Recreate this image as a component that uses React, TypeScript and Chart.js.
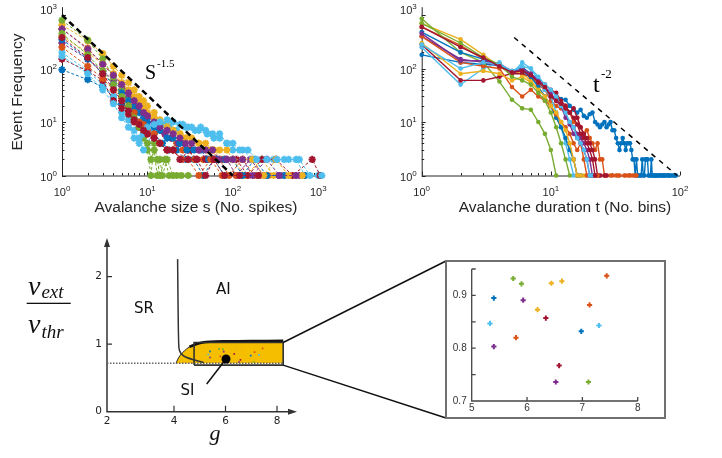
import React, { useEffect, useRef } from 'react';
import { Chart, registerables } from 'chart.js';

Chart.register(...registerables);

const COLORS = ['#0072BD', '#D95319', '#EDB120', '#7E2F8E', '#77AC30', '#4DBEEE', '#A2142F'];
const SANS = '"Liberation Sans", Arial, sans-serif';
const DJ = '"DejaVu Sans", sans-serif';
const SERIF = '"Liberation Serif", "Times New Roman", serif';

type Pt = [number, number];

// ---------- Panel A: avalanche size distributions [size, count]
const size1: Pt[] = [[1,95],[2,62],[3,45],[4,30],[5,22],[6,18],[7,14],[8,10],[10,8],[12,6],[15,4],[18,3],[22,3],[28,2],[35,2],[45,1],[60,2],[80,1],[120,1],[200,1],[350,1]];
const size2: Pt[] = [[1,550],[2,240],[3,120],[4,75],[5,50],[6,38],[7,28],[8,22],[9,17],[10,14],[12,10],[14,8],[16,6],[19,5],[22,4],[26,3],[30,3],[36,2],[45,2],[55,3],[70,2],[90,1],[130,2],[180,1],[260,1],[400,1]];
const size3: Pt[] = [[1,650],[2,330],[3,190],[4,110],[5,75],[6,55],[7,40],[8,30],[9,25],[10,20],[12,15],[14,11],[17,9],[20,7],[24,6],[28,5],[33,4],[40,4],[50,3],[60,3],[75,2],[100,2],[140,1],[220,2],[300,1],[500,1]];
const size4: Pt[] = [[1,300],[2,150],[3,90],[4,60],[5,40],[6,30],[7,20],[8,18],[9,14],[10,12],[12,9],[14,7],[16,6],[19,5],[23,4],[27,4],[32,3],[40,3],[50,2],[65,2],[85,2],[110,1],[160,2],[230,1],[350,1],[600,1]];
const size5: Pt[] = [[1,800],[2,340],[3,150],[4,70],[5,40],[6,25],[7,15],[8,9],[9,5],[10,3],[11,1],[12,4],[13,2],[14,1],[16,2],[18,1],[22,1],[30,1]];
const size6: Pt[] = [[1,200],[2,90],[3,50],[4,30],[5,15],[6,11],[7,7],[8,5],[9,3],[10,4],[12,7],[15,9],[18,8],[22,7],[26,9],[30,8],[36,7],[42,8],[50,6],[60,5],[70,6],[85,4],[100,3],[130,3],[170,2],[220,2],[300,2],[400,2],[550,2],[700,1],[1000,1]];
const size7: Pt[] = [[1,150],[2,90],[3,60],[4,25],[5,18],[6,14],[7,10],[8,8],[9,7],[10,6],[12,5],[14,4],[17,3],[20,3],[25,2],[30,3],[38,2],[48,2],[60,2],[80,2],[110,2],[150,1],[220,2],[320,2],[500,1],[850,2],[1050,1]];
const size8: Pt[] = [[1,350],[2,150],[3,80],[4,50],[5,35],[6,25],[7,19],[8,15],[9,12],[10,10],[12,8],[14,7],[17,5],[20,5],[24,4],[29,3],[35,3],[42,3],[52,2],[65,2],[80,2],[100,2],[130,1],[180,2],[250,1],[400,1],[700,1]];
const size9: Pt[] = [[1,250],[2,110],[3,65],[4,40],[5,28],[6,20],[7,15],[8,10],[9,9],[10,7],[12,6],[14,4],[17,3],[20,3],[25,2],[30,2],[40,1],[55,2],[75,1],[110,1],[200,1]];
const size10: Pt[] = [[1,400],[2,200],[3,120],[4,80],[5,55],[6,40],[7,30],[8,24],[9,19],[10,15],[12,12],[14,10],[17,8],[20,7],[24,6],[28,5],[33,5],[40,4],[48,4],[58,3],[70,3],[85,3],[100,2],[130,2],[170,2],[230,1],[320,2],[450,1],[650,1]];
const size11: Pt[] = [[1,550],[2,230],[3,120],[4,75],[5,50],[6,35],[7,25],[8,20],[9,15],[10,13],[12,10],[14,8],[17,7],[20,6],[24,5],[28,4],[33,4],[40,3],[48,3],[58,3],[70,2],[85,2],[100,2],[130,2],[170,1],[250,2],[350,1],[550,1]];
const size12: Pt[] = [[1,450],[2,180],[3,90],[4,50],[5,30],[6,20],[7,12],[8,8],[9,6],[10,4],[11,2],[12,3],[13,1],[14,2],[15,1],[17,2],[20,1],[25,1]];
const size13: Pt[] = [[1,170],[2,80],[3,40],[4,22],[5,12],[6,8],[7,5],[8,4],[9,6],[10,8],[12,9],[14,10],[17,11],[20,10],[24,9],[28,8],[33,8],[40,7],[48,7],[58,6],[70,5],[85,4],[100,4],[120,3],[150,3],[190,2],[250,2],[330,2],[450,2],[600,2],[800,1],[1100,1]];
const size14: Pt[] = [[1,380],[2,160],[3,80],[4,40],[5,25],[6,16],[7,11],[8,9],[9,7],[10,6],[12,5],[14,4],[17,3],[20,3],[24,2],[30,2],[38,2],[48,1],[60,2],[80,1],[120,1],[200,1]];
const sizeSeries = [size1, size2, size3, size4, size5, size6, size7, size8, size9, size10, size11, size12, size13, size14];
const sizeGuideS = [1, 100];
const sizeGuideCount = [1000, 1];

// ---------- Panel B: avalanche duration distributions (count per duration bin t = 1, 2, ...)
const durationBins = Array.from({ length: 100 }, (_, i) => i + 1);
const dur1 = [180,130,120,115,90,105,80,60,40,30,27,27,26,20,17,15,17,13,12,14,15,10,9,8,9,10,8,9,10,7,7,5,4,3,4,5,4,3,4,4,4,3,2,2,1,2,1,1,1,1,2,1,1,2,2,2,1,1,1,2,1,1,1,1,1,1,1,null,1,1,1,null,1,1,1,1,1,null,null,1,1,null,1,1,null,null,1,null,null,1,1,null,1];
const dur2 = [600,270,150,110,80,100,70,50,40,25,20,18,20,15,10,12,8,6,7,5,4,3,4,2,2,1,1,null,1,1,null,1,1,1,null,null,1,1,null,1,1,null,1,null,1,1];
const dur3 = [700,350,180,110,90,80,60,40,30,20,12,8,5,3,2,1,1,1,1,null,1,1];
const dur4 = [400,150,130,110,80,100,80,55,45,30,25,20,12,10,8,6,5,4,3,2,1,1,null,1];
const dur5 = [850,200,130,57,26,18,17,10,6,3,1];
const dur6 = [250,50,100,130,80,130,100,60,40,30,15,8,4,2,1,1];
const dur7 = [280,60,60,70,80,80,70,60,50,40,35,25,20,15,18,12,8,6,5,4,3,2,1,1,null,1,1];
const dur8 = [480,200,150,110,90,90,70,45,30,20,12,8,5,3,2,1,1];
const dur9 = [400,130,110,100,45,30,40,30,25,20,14,10,8,6,4,3,4,2,1,1,null,1,1];
const dur10 = [300,80,90,80,60,70,55,40,30,20,15,10,7,4,2,1,1];
const dur11 = [450,140,140,120,90,90,80,60,45,35,25,20,15,9,6,5,4,3,2,1,1];
const dur12 = [700,300,160,120,70,60,50,35,25,15,8,4,2,1];
const dur13 = [280,100,130,120,90,110,100,70,50,40,30,20,15,10,8,5,4,3,2,1,1];
const dur14 = [600,250,160,110,85,90,75,55,45,30,25,22,18,15,12,9,6,5,4,3,2,1];
const durSeries = [dur1, dur2, dur3, dur4, dur5, dur6, dur7, dur8, dur9, dur10, dur11, dur12, dur13, dur14];
const durGuideT = [5.2, 95];
const durGuideCount = [380, 1];

const decadesSize = [0, 1, 2, 3];
const decadesDur = [0, 1, 2];
const decadesCount = [0, 1, 2, 3];

// ---------- Panel C: phase diagram (g, nu_ext/nu_thr)
const boundaryG = [4.14, 4.16, 4.19, 4.26, 4.45, 4.8, 5.15];
const boundaryV = [2.26, 1.5, 0.95, 0.87, 0.81, 0.765, 0.73];
const siFillG = [4.08, 4.15, 4.25, 4.4, 4.6, 4.85, 5.1, 5.4, 6.0, 7.0, 8.24];
const siFillV = [0.717, 0.78, 0.84, 0.9, 0.96, 1.0, 1.025, 1.037, 1.042, 1.045, 1.05];
const siBase = 0.717;
const rectG = [4.78, 8.24];
const rectV = [0.69, 1.025];
const dotG = 6.02;
const dotV = 0.78;
const pointerEndG = 5.27;
const pointerEndV = 0.41;
const phaseXTicks = [4, 6, 8];
const phaseYTicks = [0, 1, 2];
const regionLabels = ['SR', 'AI', 'SI'];
const regionG = [2.83, 5.92, 4.52];
const regionV = [1.52, 1.8, 0.31];

// ---------- Inset: simulated networks (g, nu_ext/nu_thr)
const insetG = [5.75, 5.90, 6.44, 6.63, 7.44, 5.40, 5.93, 6.19, 7.13, 6.34, 5.33, 6.98, 7.30, 5.80, 5.40, 6.58, 6.52, 7.11];
const insetV = [0.932, 0.922, 0.923, 0.927, 0.937, 0.895, 0.891, 0.873, 0.882, 0.857, 0.847, 0.832, 0.843, 0.820, 0.803, 0.767, 0.736, 0.736];
const insetColorIdx = [4, 4, 2, 2, 1, 0, 3, 2, 1, 6, 5, 0, 5, 1, 3, 6, 3, 4];
const insetXTicks = [5, 6, 7, 8];
const insetYTicks = [0.7, 0.75, 0.8, 0.85, 0.9, 0.95];
const insetYLabels = [0.7, 0.8, 0.9];

// ---------- helpers
function pow10(ctx: CanvasRenderingContext2D, exp: number, x: number, mid: number, align: 'right' | 'center') {
  ctx.font = `11px ${SANS}`;
  const w1 = ctx.measureText('10').width;
  ctx.font = `8px ${SANS}`;
  const w2 = ctx.measureText(String(exp)).width;
  const total = w1 + w2;
  const x0 = align === 'right' ? x - total : x - total / 2;
  ctx.textAlign = 'left';
  ctx.textBaseline = 'alphabetic';
  ctx.font = `11px ${SANS}`;
  ctx.fillText('10', x0, mid + 4);
  ctx.font = `8px ${SANS}`;
  ctx.fillText(String(exp), x0 + w1, mid - 1);
}

function makeLogPlugin(o: { xDec: number[]; yDec: number[]; xTitle: string; xTitleX: number; yTitle?: string; texts?: (ctx: CanvasRenderingContext2D, chart: any) => void }) {
  return {
    id: 'logAxes',
    beforeDatasetsDraw(chart: any) {
      const { ctx, chartArea: a, scales } = chart;
      const xs = scales.x, ys = scales.y;
      ctx.save();
      ctx.strokeStyle = '#262626';
      ctx.lineWidth = 1;
      ctx.beginPath();
      ctx.moveTo(a.left + 0.5, a.top);
      ctx.lineTo(a.left + 0.5, a.bottom + 0.5);
      ctx.lineTo(a.right, a.bottom + 0.5);
      ctx.stroke();
      ctx.beginPath();
      for (const d of o.xDec) {
        for (let m = 1; m <= 9; m++) {
          const v = m * Math.pow(10, d);
          if (v > xs.max + 1e-9) break;
          const px = Math.round(xs.getPixelForValue(v)) + 0.5;
          const len = m === 1 ? 4 : 2.5;
          ctx.moveTo(px, a.bottom);
          ctx.lineTo(px, a.bottom - len);
        }
      }
      for (const d of o.yDec) {
        for (let m = 1; m <= 9; m++) {
          const v = m * Math.pow(10, d);
          if (v > ys.max + 1e-9) break;
          const py = Math.round(ys.getPixelForValue(v)) + 0.5;
          const len = m === 1 ? 4 : 2.5;
          ctx.moveTo(a.left, py);
          ctx.lineTo(a.left + len, py);
        }
      }
      ctx.stroke();
      ctx.fillStyle = '#262626';
      for (const d of o.xDec) pow10(ctx, d, xs.getPixelForValue(Math.pow(10, d)), a.bottom + 16, 'center');
      for (const d of o.yDec) {
        const p = ys.getPixelForValue(Math.pow(10, d));
        pow10(ctx, d, a.left - 5, d === 3 ? p - 5 : p + 1, 'right');
      }
      ctx.font = `15.5px ${SANS}`;
      ctx.textAlign = 'center';
      ctx.textBaseline = 'middle';
      ctx.fillText(o.xTitle, o.xTitleX, 208);
      if (o.yTitle) {
        ctx.save();
        ctx.translate(18, 92);
        ctx.rotate(-Math.PI / 2);
        ctx.fillText(o.yTitle, 0, 0);
        ctx.restore();
      }
      ctx.restore();
    },
    afterDatasetsDraw(chart: any) {
      if (o.texts) {
        chart.ctx.save();
        o.texts(chart.ctx, chart);
        chart.ctx.restore();
      }
    },
  };
}

function baseOptions(padding: any, xScale: any, yScale: any) {
  return {
    responsive: false,
    animation: false,
    devicePixelRatio: 1,
    layout: { padding },
    plugins: { legend: { display: false }, tooltip: { enabled: false } },
    events: [],
    scales: { x: { display: false, ...xScale }, y: { display: false, ...yScale } },
  };
}

function sizeConfig(): any {
  const datasets: any[] = sizeSeries.map((s, i) => ({
    data: s.map(([x, y]) => ({ x, y })),
    borderColor: COLORS[i % 7],
    backgroundColor: COLORS[i % 7],
    borderWidth: 1,
    borderDash: [3, 2],
    pointStyle: 'star',
    pointRadius: 3.6,
    pointBorderWidth: 2,
    clip: false,
    order: -i,
  }));
  datasets.push({
    data: sizeGuideS.map((x, i) => ({ x, y: sizeGuideCount[i] })),
    borderColor: '#000',
    borderWidth: 2.5,
    borderDash: [6, 4],
    pointRadius: 0,
    clip: false,
    order: -100,
  });
  return {
    type: 'line',
    data: { datasets },
    options: baseOptions({ left: 62, right: 15, top: 7.2, bottom: 49.5 },
      { type: 'logarithmic', min: 1, max: 1200 },
      { type: 'logarithmic', min: 1, max: 1400 }),
    plugins: [makeLogPlugin({
      xDec: decadesSize, yDec: decadesCount, xTitle: 'Avalanche size s (No. spikes)', xTitleX: 196, yTitle: 'Event Frequency',
      texts: (ctx) => {
        ctx.fillStyle = '#000';
        ctx.textAlign = 'left';
        ctx.textBaseline = 'alphabetic';
        ctx.font = `20px ${SERIF}`;
        ctx.fillText('S', 145, 79);
        ctx.font = `11px ${SERIF}`;
        ctx.fillText('-1.5', 157, 67);
      },
    })],
  };
}

function durConfig(): any {
  const datasets: any[] = durSeries.map((s, i) => ({
    data: s.map((v, k) => ({ x: durationBins[k], y: v })),
    borderColor: COLORS[i % 7],
    backgroundColor: COLORS[i % 7],
    borderWidth: 1.4,
    pointStyle: 'circle',
    pointRadius: 2.3,
    pointBorderWidth: 0,
    spanGaps: false,
    clip: false,
    order: -i,
  }));
  datasets.push({
    data: durGuideT.map((x, i) => ({ x, y: durGuideCount[i] })),
    borderColor: '#000',
    borderWidth: 1.5,
    borderDash: [5, 5],
    pointRadius: 0,
    clip: false,
    order: -100,
  });
  return {
    type: 'line',
    data: { datasets },
    options: baseOptions({ left: 81.7, right: 42, top: 7.2, bottom: 49.5 },
      { type: 'logarithmic', min: 1, max: 100 },
      { type: 'logarithmic', min: 1, max: 1400 }),
    plugins: [makeLogPlugin({
      xDec: decadesDur, yDec: decadesCount, xTitle: 'Avalanche duration t (No. bins)', xTitleX: 225,
      texts: (ctx) => {
        ctx.fillStyle = '#000';
        ctx.textAlign = 'left';
        ctx.textBaseline = 'alphabetic';
        ctx.font = `24px ${SERIF}`;
        ctx.fillText('t', 253, 92);
        ctx.font = `13px ${SERIF}`;
        ctx.fillText('-2', 261, 78);
      },
    })],
  };
}

const phasePlugin = {
  id: 'phase',
  beforeDatasetsDraw(chart: any) {
    const { ctx, chartArea: a, scales } = chart;
    const xs = scales.x, ys = scales.y;
    ctx.save();
    ctx.strokeStyle = '#333';
    ctx.fillStyle = '#333';
    ctx.lineWidth = 1.5;
    ctx.beginPath();
    ctx.moveTo(a.left, a.top + 6);
    ctx.lineTo(a.left, a.bottom);
    ctx.lineTo(a.right - 6, a.bottom);
    ctx.stroke();
    ctx.beginPath();
    ctx.moveTo(a.left, a.top);
    ctx.lineTo(a.left - 3, a.top + 9);
    ctx.lineTo(a.left + 3, a.top + 9);
    ctx.closePath();
    ctx.fill();
    ctx.beginPath();
    ctx.moveTo(a.right, a.bottom);
    ctx.lineTo(a.right - 9, a.bottom - 3);
    ctx.lineTo(a.right - 9, a.bottom + 3);
    ctx.closePath();
    ctx.fill();
    ctx.lineWidth = 1.2;
    ctx.beginPath();
    for (const v of phaseYTicks) {
      if (v === 0) continue;
      const py = ys.getPixelForValue(v);
      ctx.moveTo(a.left, py);
      ctx.lineTo(a.left + 5, py);
    }
    for (const g of phaseXTicks) {
      const px = xs.getPixelForValue(g);
      ctx.moveTo(px, a.bottom);
      ctx.lineTo(px, a.bottom - 6);
    }
    ctx.stroke();
    ctx.fillStyle = '#222';
    ctx.font = `10.5px ${DJ}`;
    ctx.textAlign = 'right';
    ctx.textBaseline = 'middle';
    for (const v of phaseYTicks) ctx.fillText(String(v), a.left - 5, ys.getPixelForValue(v));
    ctx.textAlign = 'center';
    ctx.fillText('2', a.left, a.bottom + 10);
    for (const g of phaseXTicks) ctx.fillText(String(g), xs.getPixelForValue(g), a.bottom + 10);
    // axis titles
    ctx.fillStyle = '#111';
    ctx.textAlign = 'left';
    ctx.textBaseline = 'alphabetic';
    ctx.font = `italic 28px ${SERIF}`;
    const wnu = ctx.measureText('ν').width;
    ctx.fillText('ν', 28, 70);
    ctx.fillText('ν', 28, 108);
    ctx.font = `italic 19px ${SERIF}`;
    ctx.fillText('ext', 29 + wnu, 73);
    ctx.fillText('thr', 29 + wnu, 113);
    ctx.fillRect(26.7, 77.7, 44, 1.3);
    ctx.font = `italic 22px ${SERIF}`;
    ctx.textAlign = 'center';
    ctx.fillText('g', 215, 215);
    ctx.restore();
  },
  afterDatasetsDraw(chart: any) {
    const { ctx, scales } = chart;
    const xs = scales.x, ys = scales.y;
    ctx.save();
    ctx.strokeStyle = '#111';
    ctx.lineWidth = 1.5;
    const rx = xs.getPixelForValue(rectG[1]);
    ctx.beginPath();
    ctx.moveTo(rx, ys.getPixelForValue(rectV[1]));
    ctx.lineTo(446, 36);
    ctx.moveTo(rx, ys.getPixelForValue(rectV[0]));
    ctx.lineTo(446, 193);
    ctx.stroke();
    ctx.fillStyle = '#111';
    ctx.font = `15px ${DJ}`;
    ctx.textAlign = 'center';
    ctx.textBaseline = 'middle';
    regionLabels.forEach((t, i) => ctx.fillText(t, xs.getPixelForValue(regionG[i]), ys.getPixelForValue(regionV[i])));
    ctx.restore();
  },
};

function phaseConfig(): any {
  const datasets: any[] = [
    { data: [{ x: dotG, y: dotV }], showLine: false, pointRadius: 4.5, pointBackgroundColor: '#000', pointBorderWidth: 0, order: 1 },
    { data: [{ x: dotG, y: dotV }, { x: pointerEndG, y: pointerEndV }], borderColor: '#111', borderWidth: 1.5, pointRadius: 0, order: 2 },
    { data: insetG.map((g, i) => ({ x: g, y: insetV[i] })), showLine: false, pointStyle: 'rect', pointRadius: 1.2, pointBorderWidth: 0,
      pointBackgroundColor: insetColorIdx.map((c) => COLORS[c]), order: 3 },
    { data: boundaryG.map((g, i) => ({ x: g, y: boundaryV[i] })), borderColor: '#333', borderWidth: 1.5, pointRadius: 0, tension: 0.25, order: 4 },
    { data: [{ x: rectG[0], y: rectV[0] }, { x: rectG[0], y: rectV[1] }, { x: rectG[1], y: rectV[1] }, { x: rectG[1], y: rectV[0] }, { x: rectG[0], y: rectV[0] }],
      borderColor: '#333', borderWidth: 1.6, pointRadius: 0, order: 5 },
    { data: [{ x: 1.398, y: siBase }, { x: rectG[1], y: siBase }], borderColor: '#666', borderWidth: 1.5, borderDash: [1.5, 1.5], pointRadius: 0, order: 6 },
    { data: siFillG.slice(4).map((g, i) => ({ x: g, y: siFillV[i + 4] })), borderColor: '#111', borderWidth: 2.6, pointRadius: 0, tension: 0.3, order: 7 },
    { data: siFillG.map((g, i) => ({ x: g, y: siFillV[i] })), borderColor: '#222', borderWidth: 1, backgroundColor: '#F5BF00',
      fill: { value: siBase }, pointRadius: 0, tension: 0.3, order: 8 },
  ];
  return {
    type: 'line',
    data: { datasets },
    options: baseOptions({ left: 107, right: 425, top: 13, bottom: 46.3 },
      { type: 'linear', min: 1.398, max: 8.777 },
      { type: 'linear', min: 0, max: 2.573 }),
    plugins: [phasePlugin],
  };
}

const insetPlugin = {
  id: 'inset',
  beforeDatasetsDraw(chart: any) {
    const { ctx, chartArea: a, scales } = chart;
    const xs = scales.x, ys = scales.y;
    ctx.save();
    ctx.strokeStyle = '#707070';
    ctx.lineWidth = 2;
    ctx.strokeRect(1, 1, 219, 157);
    ctx.strokeStyle = '#444';
    ctx.lineWidth = 1.3;
    ctx.beginPath();
    ctx.moveTo(a.left, a.top);
    ctx.lineTo(a.left, a.bottom);
    ctx.lineTo(a.right, a.bottom);
    for (const v of insetYTicks) {
      const py = ys.getPixelForValue(v);
      ctx.moveTo(a.left, py);
      ctx.lineTo(a.left + 4, py);
    }
    for (const g of insetXTicks) {
      const px = xs.getPixelForValue(g);
      ctx.moveTo(px, a.bottom);
      ctx.lineTo(px, a.bottom - 4);
    }
    ctx.stroke();
    ctx.fillStyle = '#333';
    ctx.font = `10px ${SANS}`;
    ctx.textAlign = 'right';
    ctx.textBaseline = 'middle';
    for (const v of insetYLabels) ctx.fillText(v.toFixed(1), a.left - 5, ys.getPixelForValue(v));
    ctx.textAlign = 'center';
    for (const g of insetXTicks) ctx.fillText(String(g), xs.getPixelForValue(g), a.bottom + 7);
    ctx.restore();
  },
};

function insetConfig(): any {
  return {
    type: 'scatter',
    data: {
      datasets: [{
        data: insetG.map((g, i) => ({ x: g, y: insetV[i] })),
        pointStyle: 'cross',
        pointRadius: 2.6,
        pointBorderWidth: 2,
        pointBorderColor: insetColorIdx.map((c) => COLORS[c]),
        pointBackgroundColor: insetColorIdx.map((c) => COLORS[c]),
      }],
    },
    options: baseOptions({ left: 26.7, right: 29.3, top: 9, bottom: 19 },
      { type: 'linear', min: 5, max: 8 },
      { type: 'linear', min: 0.7, max: 0.95 }),
    plugins: [insetPlugin],
  };
}

function ChartCanvas({ left, top, width, height, make }: { left: number; top: number; width: number; height: number; make: () => any }) {
  const ref = useRef<HTMLCanvasElement>(null);
  useEffect(() => {
    const chart = new Chart(ref.current as HTMLCanvasElement, make());
    return () => chart.destroy();
  }, []);
  return <canvas ref={ref} width={width} height={height} style={{ position: 'absolute', left, top, width, height }} />;
}

export default function App() {
  return (
    <div style={{ position: 'absolute', left: 0, top: 0, width: 722, height: 458, background: '#fff' }}>
      <ChartCanvas left={0} top={0} width={340} height={225} make={sizeConfig} />
      <ChartCanvas left={340} top={0} width={382} height={225} make={durConfig} />
      <ChartCanvas left={0} top={225} width={722} height={233} make={phaseConfig} />
      <ChartCanvas left={445} top={260} width={222} height={160} make={insetConfig} />
    </div>
  );
}
